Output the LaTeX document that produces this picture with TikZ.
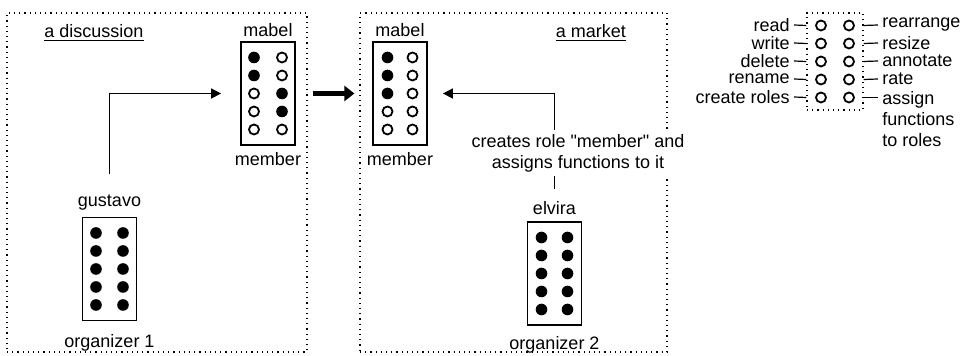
\documentclass[tikz,border=0pt]{standalone}
\usepackage{fontspec}
\setmainfont{Liberation Sans}
\usetikzlibrary{arrows.meta,positioning,calc}
\tikzset{
  panel/.style={draw,dotted,line width=0.6pt,inner sep=0pt},
  rolebox/.style={draw,line width=0.9pt,minimum width=27pt,minimum height=51.5pt,inner sep=0pt},
  slotfull/.style={circle,fill=black,minimum size=5.8pt,inner sep=0pt},
  slotfree/.style={circle,draw,line width=0.9pt,fill=white,minimum size=5pt,inner sep=0pt},
  lbl/.style={font=\fontsize{9}{10.5}\selectfont,inner sep=1pt},
  link/.style={-{Triangle[length=5pt,width=5pt]},line width=0.8pt},
  bigarrow/.style={-{Triangle[length=5pt,width=7.5pt]},line width=2.6pt},
  tick/.style={line width=0.6pt},
}
% two columns of five slots inside a role box: #1 box, #2 left column, #3 right column, #4 half gap
\newcommand{\slotgrid}[4]{%
  \foreach \s [count=\r] in {#2}
    \node[\s] (#1-l\r) at ($(#1)+(-#4,{(\r-3)*18})$) {};
  \foreach \s [count=\r] in {#3}
    \node[\s] (#1-r\r) at ($(#1)+(#4,{(\r-3)*18})$) {};
}

\begin{document}
\begin{tikzpicture}[x=0.5pt,y=-0.5pt]
  \useasboundingbox (0,0) rectangle (966,356);

  % the two settings
  \node[panel,minimum width=150pt,minimum height=169.5pt] (discussion) at (157,182.5) {};
  \node[panel,minimum width=153.5pt,minimum height=169.5pt] (market) at (513.5,182.5) {};
  \node[lbl] (tdisc) at (94,33) {\underline{a discussion}};
  \node[lbl] (tmark) at (591,33) {\underline{a market}};

  % a discussion
  \node[rolebox] (mabL) at (268,93.5) {};
  \node[lbl,above=1pt of mabL] (mabLname) {mabel};
  \node[lbl,below=2pt of mabL] (mabLrole) {member};
  \slotgrid{mabL}{slotfull,slotfull,slotfree,slotfree,slotfree}{slotfree,slotfree,slotfull,slotfull,slotfree}{14}

  \node[rolebox] (gus) at (109.5,269) {};
  \node[lbl,above=2pt of gus] (gusname) {gustavo};
  \node[lbl,below=5.5pt of gus] (gusrole) {organizer 1};
  \slotgrid{gus}{slotfull,slotfull,slotfull,slotfull,slotfull}{slotfull,slotfull,slotfull,slotfull,slotfull}{13.5}

  \draw[link,shorten <=9pt,shorten >=9.5pt] (gusname.north) |- (mabL.west);

  % a market
  \node[rolebox] (mabR) at (400,93.5) {};
  \node[lbl,above=1pt of mabR] (mabRname) {mabel};
  \node[lbl,below=2pt of mabR] (mabRrole) {member};
  \slotgrid{mabR}{slotfull,slotfull,slotfull,slotfree,slotfree}{slotfree,slotfree,slotfree,slotfree,slotfree}{12.5}

  \node[rolebox] (elv) at (554.5,273.5) {};
  \node[lbl,above=2pt of elv] (elvname) {elvira};
  \node[lbl,below=4pt of elv] (elvrole) {organizer 2};
  \slotgrid{elv}{slotfull,slotfull,slotfull,slotfull,slotfull}{slotfull,slotfull,slotfull,slotfull,slotfull}{13}

  \draw[link,shorten <=5pt,shorten >=7.5pt] (elvname.north) |- (mabR.east);
  \node[lbl,fill=white,align=center,inner sep=2pt] (assigns) at (578,153)
    {creates role \textquotedbl member\textquotedbl{} and\\assigns functions to it};

  % discussion turns into market
  \draw[bigarrow,shorten <=2.5pt,shorten >=2.5pt]
    (discussion.east |- mabL) -- (market.west |- mabL);

  % legend of the slots
  \node[panel,minimum width=28pt,minimum height=48.5pt] (legend) at (835,61.5) {};
  \slotgrid{legend}{slotfree,slotfree,slotfree,slotfree,slotfree}{slotfree,slotfree,slotfree,slotfree,slotfree}{14}
  \foreach \fn [count=\r] in {read,write,delete,rename,create roles} {
    \node[lbl,anchor=east] (fl\r) at (792,{7+\r*18}) {\fn};
    \draw[tick] ([xshift=1pt]fl\r.east) -- (legend.west |- legend-l\r);
  }
  \foreach \fn [count=\r] in {rearrange,resize,annotate,rate} {
    \node[lbl,anchor=west] (fr\r) at (880,{7+\r*18}) {\fn};
    \draw[tick] (legend.east |- legend-r\r) -- ([xshift=-1pt]fr\r.west);
  }
  \node[lbl,anchor=north west,align=left] (fr5) at (880,89)
    {assign\\functions\\to roles};
  \draw[tick] (legend.east |- legend-r5) -- ([xshift=-1pt]fr5.west |- legend-r5);
\end{tikzpicture}
\end{document}
